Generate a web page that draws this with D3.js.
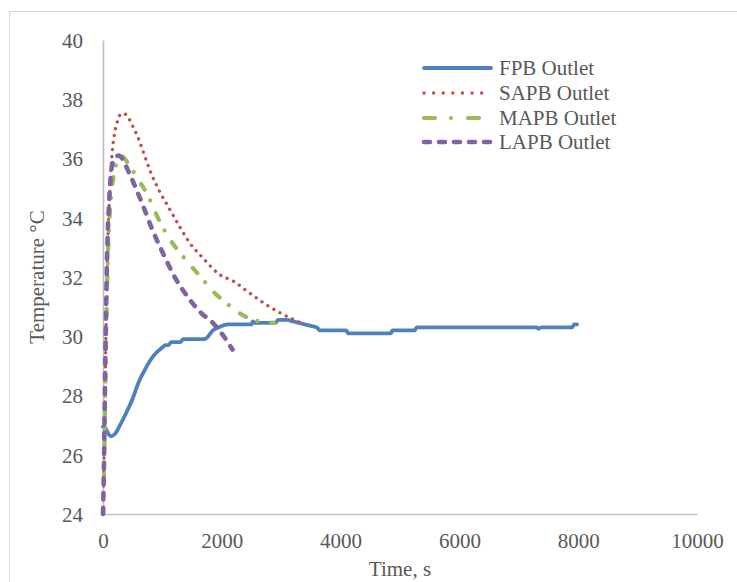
<!DOCTYPE html>
<html>
<head>
<meta charset="utf-8">
<script src="https://cdn.jsdelivr.net/npm/d3@7/dist/d3.min.js"></script>
<style>
  html, body { margin: 0; padding: 0; background: #ffffff; }
  svg { display: block; }
  text { font-family: "Liberation Serif", "Times New Roman", serif; fill: #595959; }
</style>
</head>
<body>
<svg id="chart" width="737" height="582"></svg>
<script>
// Outlet temperature histories (time in s, temperature in °C)
const fpbTime  = [0, 40, 80, 140, 200, 300, 400, 500, 600, 700, 800, 900, 1000, 1050, 1100, 1150, 1300, 1350, 1700, 1750, 1850, 1950, 2100, 2500, 2520, 2560, 2900, 2950, 3100, 3200, 3300, 3500, 3600, 3650, 4100, 4120, 4850, 4870, 5250, 5280, 7300, 7330, 7380, 7900, 7930, 7980];
const fpbTemp  = [26.95, 26.9, 26.75, 26.62, 26.7, 27.05, 27.45, 27.9, 28.45, 28.85, 29.2, 29.45, 29.62, 29.7, 29.7, 29.8, 29.8, 29.9, 29.9, 29.95, 30.2, 30.3, 30.4, 30.4, 30.5, 30.45, 30.45, 30.55, 30.55, 30.5, 30.45, 30.35, 30.3, 30.2, 30.2, 30.1, 30.1, 30.2, 30.2, 30.3, 30.3, 30.25, 30.3, 30.3, 30.4, 30.4];

const sapbTime = [0, 15, 30, 45, 60, 80, 100, 120, 150, 200, 250, 310, 370, 420, 500, 620, 700, 790, 950, 1120, 1290, 1460, 1680, 1950, 2200, 2460, 2800, 3070, 3330, 3380];
const sapbTemp = [24, 25.5, 27.5, 29.5, 31.2, 33, 34.3, 35.2, 36.1, 36.9, 37.3, 37.52, 37.5, 37.4, 37.1, 36.55, 36.1, 35.6, 34.9, 34.3, 33.7, 33.15, 32.65, 32.1, 31.85, 31.47, 31.0, 30.7, 30.45, 30.4];

const mapbTime = [0, 15, 30, 45, 60, 80, 100, 130, 170, 220, 280, 340, 450, 590, 760, 900, 1150, 1320, 1680, 1875, 2070, 2290, 2520, 2800, 2880];
const mapbTemp = [24, 25, 27, 29, 30.8, 32.5, 33.6, 34.6, 35.3, 35.8, 36.1, 36.05, 35.75, 35.3, 34.73, 34.1, 33.2, 32.76, 31.92, 31.47, 31.13, 30.79, 30.56, 30.47, 30.45];

const lapbTime = [0, 15, 30, 45, 60, 80, 100, 120, 150, 200, 260, 330, 420, 510, 675, 840, 980, 1230, 1460, 1650, 1850, 2010, 2180];
const lapbTemp = [24, 25.5, 27.8, 30, 31.8, 33.5, 34.4, 35.1, 35.75, 36.0, 36.1, 35.98, 35.6, 35.2, 34.4, 33.55, 32.93, 31.92, 31.24, 30.79, 30.45, 30.06, 29.55];

const xTicks = [0, 2000, 4000, 6000, 8000, 10000];
const yTicks = [24, 26, 28, 30, 32, 34, 36, 38, 40];
const seriesNames = ["FPB Outlet", "SAPB Outlet", "MAPB Outlet", "LAPB Outlet"];

const svg = d3.select("#chart");

// chart-area frame
svg.append("rect")
  .attr("x", 9.5).attr("y", 11.5)
  .attr("width", 760).attr("height", 600)
  .attr("fill", "none").attr("stroke", "#d9d9d9").attr("stroke-width", 1);

const x = d3.scaleLinear().domain([0, 10000]).range([103, 697]);
const y = d3.scaleLinear().domain([24, 40]).range([514, 40]);

// axes: plain light-grey lines, no tick marks
const xAxis = svg.append("g").attr("transform", `translate(0,${y(24)})`)
  .call(d3.axisBottom(x).tickValues(xTicks).tickSize(0).tickPadding(0).tickFormat(d3.format("d")));
xAxis.select(".domain").attr("stroke", "#bfbfbf").attr("stroke-width", 1.6);
xAxis.selectAll("text").attr("y", 34).attr("dy", null)
  .style("font-size", "21px").style("font-family", "Liberation Serif").attr("fill", "#595959");

const yAxis = svg.append("g").attr("transform", `translate(${x(0)},0)`)
  .call(d3.axisLeft(y).tickValues(yTicks).tickSize(0).tickPadding(20).tickFormat(d3.format("d")));
yAxis.select(".domain").attr("stroke", "#bfbfbf").attr("stroke-width", 1.6);
yAxis.selectAll("text").attr("dy", "0.35em")
  .style("font-size", "21px").style("font-family", "Liberation Serif").attr("fill", "#595959");

// axis titles
svg.append("text")
  .attr("transform", `translate(37,${(y(24) + y(40)) / 2}) rotate(-90)`)
  .attr("text-anchor", "middle").attr("dy", "0.35em")
  .style("font-size", "21px")
  .text("Temperature °C");

svg.append("text")
  .attr("x", (x(0) + x(10000)) / 2).attr("y", 576)
  .attr("text-anchor", "middle")
  .style("font-size", "21px")
  .text("Time, s");

const styles = [
  { color: "#4f81bd", width: 3.8, dash: null,            legendDash: null,              cap: "round" },
  { color: "#c0504d", width: 3.4, dash: "0.01,7",        legendDash: "0.01,9.6",        cap: "round" },
  { color: "#9bbb59", width: 4.2, dash: "7,12,0.01,14",  legendDash: "11,16,0.01,17",   cap: "round" },
  { color: "#8064a2", width: 4.6, dash: "6,9",           legendDash: "6,9",             cap: "round" }
];

const series = [
  fpbTime.map((t, i) => [t, fpbTemp[i]]),
  sapbTime.map((t, i) => [t, sapbTemp[i]]),
  mapbTime.map((t, i) => [t, mapbTemp[i]]),
  lapbTime.map((t, i) => [t, lapbTemp[i]])
];

const line = d3.line()
  .x(d => x(d[0]))
  .y(d => y(d[1]))
  .curve(d3.curveMonotoneX);

series.forEach((data, i) => {
  const s = styles[i];
  svg.append("path")
    .datum(data)
    .attr("d", line)
    .attr("fill", "none")
    .attr("stroke", s.color)
    .attr("stroke-width", s.width)
    .attr("stroke-linecap", s.cap)
    .attr("stroke-linejoin", "round")
    .attr("stroke-dasharray", s.dash);
});

// legend
const legendRows = [68, 93, 118, 142];
const legend = svg.append("g");
seriesNames.forEach((name, i) => {
  const s = styles[i];
  legend.append("line")
    .attr("x1", 424).attr("x2", 491)
    .attr("y1", legendRows[i]).attr("y2", legendRows[i])
    .attr("stroke", s.color)
    .attr("stroke-width", s.width)
    .attr("stroke-linecap", s.cap)
    .attr("stroke-dasharray", s.legendDash);
  legend.append("text")
    .attr("x", 499).attr("y", legendRows[i]).attr("dy", "0.35em")
    .style("font-size", "21px")
    .text(name);
});
</script>
</body>
</html>
